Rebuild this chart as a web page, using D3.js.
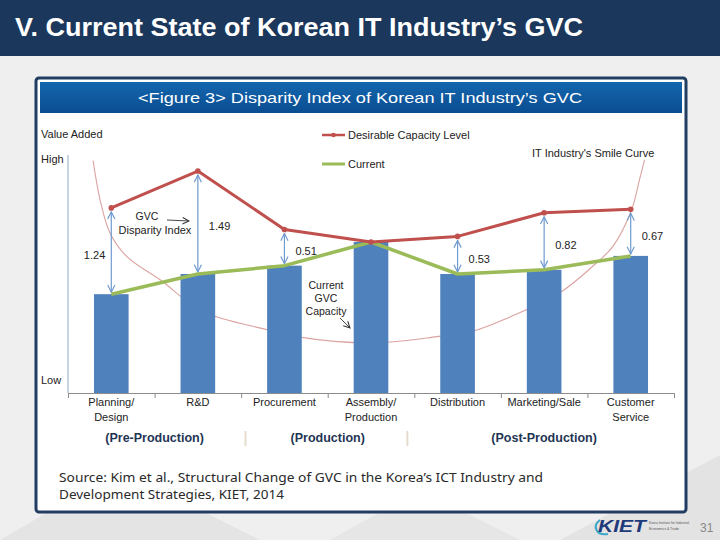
<!DOCTYPE html>
<html><head><meta charset="utf-8">
<script src="https://cdn.jsdelivr.net/npm/d3@7"></script>
<style>html,body{margin:0;padding:0;background:#efefef;}svg{display:block;font-family:"Liberation Sans",Arial,sans-serif;}</style>
</head><body>
<svg id="c" width="720" height="540"></svg>
<script>
// ---- data ----
const categories = ["Planning/\nDesign", "R&D", "Procurement", "Assembly/\nProduction", "Distribution", "Marketing/Sale", "Customer\nService"];
const currentValues = [1.42, 1.71, 1.83, 2.17, 1.71, 1.77, 1.97];
const desirableValues = [2.66, 3.19, 2.35, 2.17, 2.25, 2.59, 2.64];
const disparityLabels = ["1.24", "1.49", "0.51", null, "0.53", "0.82", "0.67"];
const phases = ["(Pre-Production)", "(Production)", "(Post-Production)"];
const phaseCenters = [0.5, 2.5, 5.0]; // category-index units
const phaseSeparators = [1.55, 3.42];
// smile curve, in (category index, value) units
const smileX = [-0.21, -0.13, -0.015, 0.18, 0.56, 1.06, 1.8, 2.14, 2.99, 3.76, 4.18, 4.6, 5.18, 5.64, 5.79, 6.01, 6.1, 6.16];
const smileY = [3.34, 2.78, 2.3, 1.96, 1.63, 1.17, 0.91, 0.81, 0.72, 0.81, 0.89, 1.09, 1.44, 1.91, 2.1, 2.63, 3.06, 3.35];

const svg = d3.select("#c");

// ---- slide background ----
svg.append("rect").attr("width",720).attr("height",540).attr("fill","#efefef");
svg.append("path").attr("d","M0,540 L120,470 L260,540 Z").attr("fill","#e4e4e4");
svg.append("path").attr("d","M330,540 L420,490 L520,540 Z").attr("fill","#e6e6e6");
svg.append("path").attr("d","M560,540 L720,455 L720,540 Z").attr("fill","#e3e3e3");
svg.append("rect").attr("width",720).attr("height",56).attr("fill","#1b375c");
svg.append("text").attr("x",15).attr("y",36).attr("fill","#fff")
  .attr("font-size",25).attr("font-weight","bold").attr("textLength",568).attr("lengthAdjust","spacingAndGlyphs")
  .text("V. Current State of Korean IT Industry\u2019s GVC");

// ---- panel ----
svg.append("rect").attr("x",36).attr("y",78).attr("width",650).attr("height",434).attr("rx",3)
  .attr("fill","#fff").attr("stroke","#213d62").attr("stroke-width",3);
const defs = svg.append("defs");
const g1 = defs.append("linearGradient").attr("id","hb").attr("x1",0).attr("y1",0).attr("x2",0).attr("y2",1);
g1.append("stop").attr("offset","0%").attr("stop-color","#1466ae");
g1.append("stop").attr("offset","100%").attr("stop-color","#0a4d91");
svg.append("rect").attr("x",40).attr("y",82).attr("width",642).attr("height",31).attr("fill","url(#hb)");
svg.append("text").attr("x",360).attr("y",103).attr("text-anchor","middle").attr("fill","#fff")
  .attr("font-size",15).attr("textLength",444).attr("lengthAdjust","spacingAndGlyphs")
  .text("<Figure 3> Disparity Index of Korean IT Industry\u2019s GVC");

// markers
function arrowMarker(id, color, w){
  const m = defs.append("marker").attr("id",id).attr("viewBox","0 0 10 10").attr("refX",9).attr("refY",5)
    .attr("markerWidth",w).attr("markerHeight",w).attr("orient","auto-start-reverse").attr("markerUnits","userSpaceOnUse");
  m.append("path").attr("d","M1,1 L9,5 L1,9").attr("fill","none").attr("stroke",color).attr("stroke-width",1.3);
}
arrowMarker("ab","#6e9ad0",9);
arrowMarker("ak","#333",8);

// ---- scales ----
const x = d3.scaleBand().domain(categories).range([68,674]).paddingInner(0.6).paddingOuter(0.3);
const xi = d3.scaleLinear().domain([-0.5,6.5]).range([68,674]);
const y = d3.scaleLinear().domain([0,3.42]).range([393,155]);
const cx = (d,i) => x(categories[i]) + x.bandwidth()/2;

// axes
svg.append("line").attr("x1",68).attr("x2",68).attr("y1",y(3.42)).attr("y2",y(0)).attr("stroke","#8ea8c6").attr("stroke-width",1);
const xAxis = d3.axisBottom(xi).tickValues(d3.range(-0.5,7,1)).tickSize(5).tickFormat("");
const gx = svg.append("g").attr("transform",`translate(0,${y(0)})`).call(xAxis);
gx.select(".domain").attr("stroke","#8c8c8c");
gx.selectAll(".tick line").attr("stroke","#8c8c8c");

// category labels
const lab = svg.append("g").attr("font-size",11).attr("fill","#222").attr("text-anchor","middle");
categories.forEach((c,i)=>{
  const t = lab.append("text").attr("x",cx(c,i)).attr("y",406);
  c.split("\n").forEach((s,k)=>t.append("tspan").attr("x",cx(c,i)).attr("dy",k?15:0).text(s));
});

// axis side labels
const side = svg.append("g").attr("font-size",11).attr("fill","#222");
side.append("text").attr("x",41).attr("y",138).text("Value Added");
side.append("text").attr("x",41).attr("y",163).text("High");
side.append("text").attr("x",41).attr("y",384).text("Low");

// smile curve
const smile = smileX.map((v,i)=>[xi(v), y(smileY[i])]);
svg.append("path").attr("d",d3.line().curve(d3.curveCatmullRom)(smile)).attr("fill","none").attr("stroke","#dba3a1").attr("stroke-width",1.1);
svg.append("text").attr("x",532).attr("y",157).attr("font-size",11).attr("fill","#222").text("IT Industry's Smile Curve");

// bars
svg.append("g").selectAll("rect").data(currentValues).join("rect")
  .attr("x",(d,i)=>x(categories[i])).attr("width",x.bandwidth())
  .attr("y",d=>y(d)).attr("height",d=>y(0)-y(d)).attr("fill","#4f81bd");

// disparity arrows
desirableValues.forEach((d,i)=>{
  if(!disparityLabels[i]) return;
  const xx = cx(null,i);
  svg.append("line").attr("x1",xx).attr("x2",xx).attr("y1",y(d)+4).attr("y2",y(currentValues[i])-2)
    .attr("stroke","#6e9ad0").attr("stroke-width",1.2).attr("marker-start","url(#ab)").attr("marker-end","url(#ab)");
  const my = (y(d)+y(currentValues[i]))/2 + 4;
  svg.append("text").attr("x", i===0 ? xx-6 : xx+11).attr("y",my).attr("dy","0.35em")
    .attr("text-anchor", i===0 ? "end":"start").attr("font-size",11).attr("fill","#222").text(disparityLabels[i]);
});

// lines
const line = d3.line().x((d,i)=>cx(d,i)).y(d=>y(d));
svg.append("path").attr("d",line(currentValues)).attr("fill","none").attr("stroke","#9bbb59").attr("stroke-width",3.5).attr("stroke-linejoin","round");
svg.append("path").attr("d",line(desirableValues)).attr("fill","none").attr("stroke","#c0504d").attr("stroke-width",3).attr("stroke-linejoin","round");
svg.append("g").selectAll("circle").data(desirableValues).join("circle")
  .attr("cx",(d,i)=>cx(d,i)).attr("cy",d=>y(d)).attr("r",2.8).attr("fill","#c0504d");

// legend
svg.append("line").attr("x1",322).attr("x2",345).attr("y1",135).attr("y2",135).attr("stroke","#c0504d").attr("stroke-width",2.5);
svg.append("circle").attr("cx",333.5).attr("cy",135).attr("r",2.3).attr("fill","#c0504d");
svg.append("text").attr("x",348).attr("y",139).attr("font-size",11).attr("fill","#222").text("Desirable Capacity Level");
svg.append("line").attr("x1",322).attr("x2",345).attr("y1",164).attr("y2",164).attr("stroke","#9bbb59").attr("stroke-width",3);
svg.append("text").attr("x",348).attr("y",168).attr("font-size",11).attr("fill","#222").text("Current");

// annotations
const ann = svg.append("g").attr("font-size",11).attr("fill","#222");
ann.append("text").attr("x",147).attr("y",220).attr("text-anchor","middle").attr("font-size",10.5).text("GVC");
ann.append("text").attr("x",155).attr("y",234).attr("text-anchor","middle").text("Disparity Index");
svg.append("line").attr("x1",167).attr("x2",189).attr("y1",220).attr("y2",221).attr("stroke","#333").attr("stroke-width",0.9).attr("marker-end","url(#ak)");
const cg = svg.append("g").attr("font-size",10.5).attr("fill","#222").attr("text-anchor","middle");
cg.append("text").attr("x",326).attr("y",289).text("Current");
cg.append("text").attr("x",326).attr("y",302).text("GVC");
cg.append("text").attr("x",326).attr("y",315).text("Capacity");
svg.append("line").attr("x1",340).attr("x2",350).attr("y1",318).attr("y2",328).attr("stroke","#333").attr("stroke-width",0.9).attr("marker-end","url(#ak)");

// phases
const ph = svg.append("g").attr("font-size",12.5).attr("font-weight","bold").attr("fill","#1f3554").attr("text-anchor","middle");
phases.forEach((p,i)=>ph.append("text").attr("x",xi(phaseCenters[i])).attr("y",442).text(p));
phaseSeparators.forEach(s=>svg.append("line").attr("x1",xi(s)).attr("x2",xi(s)).attr("y1",431).attr("y2",446).attr("stroke","#e6dccd").attr("stroke-width",2));

// source
const src = svg.append("g").attr("font-family","'Noto Sans',sans-serif").attr("font-size",12).attr("fill","#2a2a2a");
src.append("text").attr("x",59).attr("y",482).attr("textLength",484).attr("lengthAdjust","spacingAndGlyphs").text("Source: Kim et al., Structural Change of GVC in the Korea\u2019s ICT Industry and");
src.append("text").attr("x",59).attr("y",499).attr("textLength",225).attr("lengthAdjust","spacingAndGlyphs").text("Development Strategies, KIET, 2014");

// logo + page number
svg.append("path").attr("d","M600,520 C592,526 596,536 608,534").attr("fill","none").attr("stroke","#3aa7c9").attr("stroke-width",2);
svg.append("text").attr("x",598).attr("y",532).attr("font-size",17).attr("font-weight","bold").attr("font-style","italic").attr("fill","#1f3a7a")
  .attr("textLength",48).attr("lengthAdjust","spacingAndGlyphs").text("KIET");
svg.append("text").attr("x",649).attr("y",524).attr("font-size",3.2).attr("fill","#555").attr("textLength",40).attr("lengthAdjust","spacingAndGlyphs").text("Korea Institute for Industrial");
svg.append("text").attr("x",649).attr("y",530).attr("font-size",3.2).attr("fill","#555").attr("textLength",30).attr("lengthAdjust","spacingAndGlyphs").text("Economics & Trade");
svg.append("text").attr("x",700).attr("y",532).attr("font-size",12).attr("fill","#888").text("31");
</script>
</body></html>
